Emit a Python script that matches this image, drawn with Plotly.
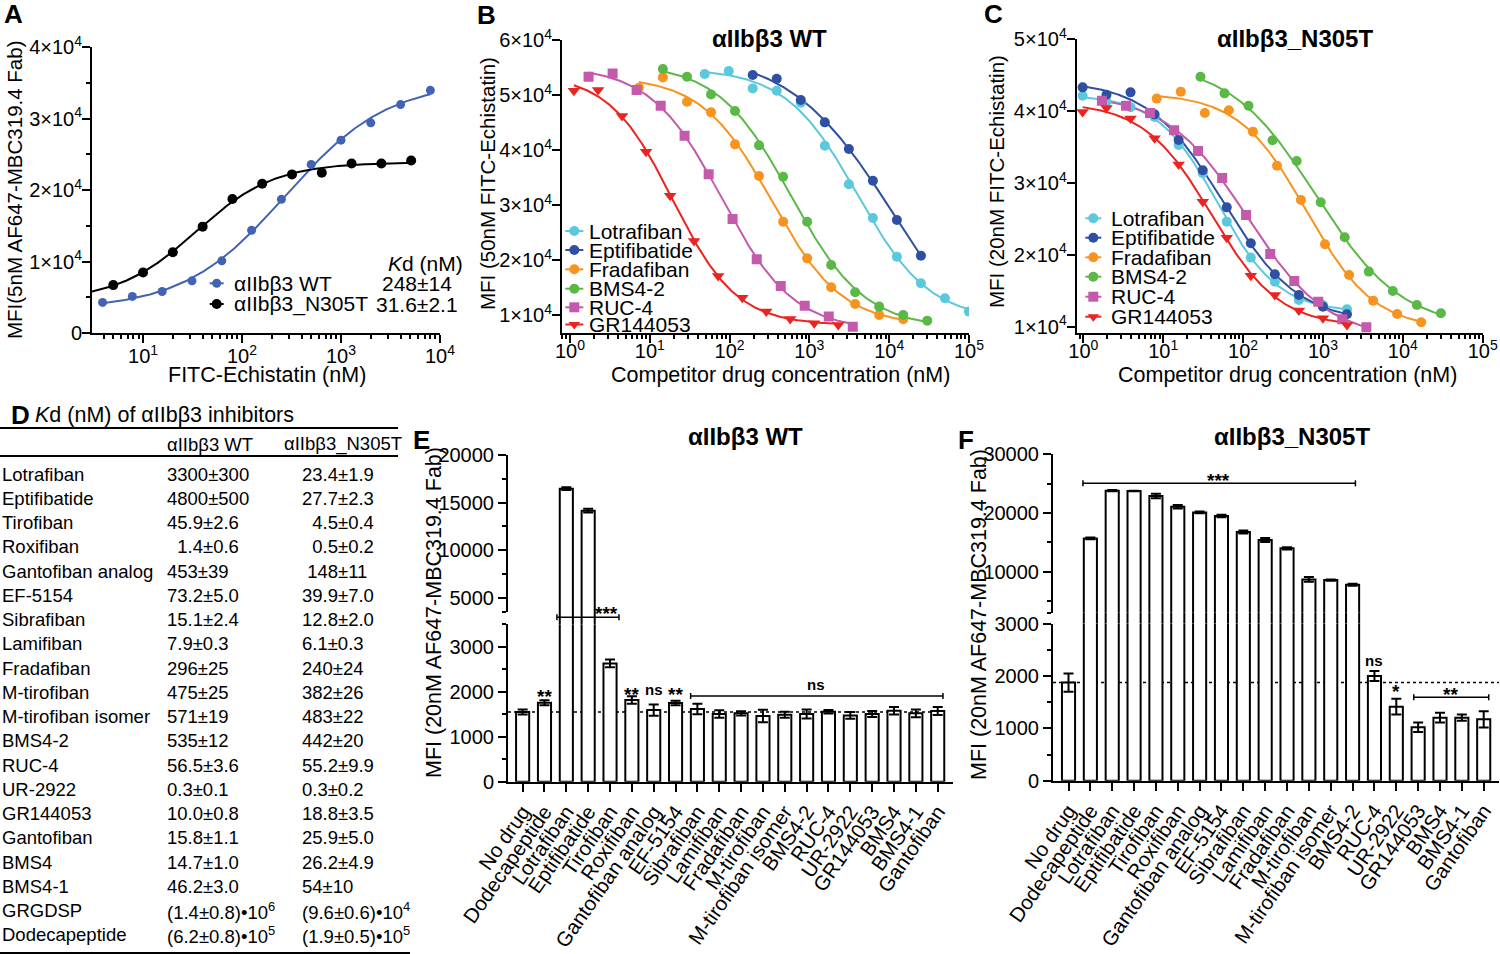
import numpy as np
import plotly.graph_objects as go

W, H = 1500, 954
FONT = "Liberation Sans, Arial, Helvetica, sans-serif"


def px(x):
    return x / W


def py(y):
    return 1 - y / H


# ======================= DATA =======================
# ---- Panel A : FITC-Echistatin binding ----
a_wt_conc = [3.9, 7.8, 15.6, 31.25, 62.5, 125, 250, 500, 1000, 2000, 4000, 8000]
a_wt_mfi = [4280, 5120, 5810, 7300, 10090, 14370, 18700, 23580, 26980, 29400, 31950, 33950]
a_mut_conc = [5, 10, 20, 40, 80, 160, 320, 640, 1280, 2560, 5120]
a_mut_mfi = [6700, 8470, 11300, 14880, 18740, 20880, 22190, 22420, 23720, 23720, 24140]
a_names = ["αIIbβ3 WT", "αIIbβ3_N305T"]
a_kd = ["248±14", "31.6±2.1"]

# ---- Panel B : competition on WT ----
b_lotrafiban_conc = [48.8, 97.7, 195, 390, 781, 1562, 3125, 6250, 12500, 25000, 50000, 100000]
b_lotrafiban_mfi = [53820, 54360, 51210, 50790, 48610, 40790, 33760, 27640, 20600, 15760, 13030, 10610]
b_eptifibatide_conc = [195, 390, 781, 1562, 3125, 6250, 12500, 25000]
b_eptifibatide_mfi = [53640, 52970, 49090, 45030, 40180, 34420, 27270, 20790]
b_fradafiban_conc = [7.3, 14.6, 29.3, 58.6, 117, 234, 469, 938, 1875, 3750, 7500, 15000]
b_fradafiban_mfi = [51330, 53210, 48790, 46850, 41030, 35270, 26970, 20300, 15030, 12000, 10000, 9210]
b_bms42_conc = [14.6, 29.3, 58.6, 117, 234, 469, 938, 1875, 3750, 7500, 15000, 30000]
b_bms42_mfi = [54730, 53330, 50120, 47090, 40850, 35150, 26970, 19090, 14120, 11520, 10000, 8970]
b_ruc4_conc = [1.71, 3.42, 6.84, 13.7, 27.3, 54.7, 109, 219, 438, 875, 1750, 3500]
b_ruc4_mfi = [53330, 53940, 50910, 48060, 42610, 35580, 27460, 20120, 15270, 11700, 9700, 7880]
b_gr_conc = [1.12, 2.25, 4.49, 8.98, 18.0, 35.9, 71.9, 144, 288, 575, 1150, 2300]
b_gr_mfi = [50790, 50910, 46180, 39700, 31700, 23450, 17090, 13150, 10610, 9270, 8480, 8180]

# ---- Panel C : competition on N305T ----
c_lotrafiban_conc = [0.98, 1.95, 3.9, 7.8, 15.6, 31.25, 62.5, 125, 250, 500, 1000, 2000]
c_lotrafiban_mfi = [42160, 41320, 40560, 39200, 35300, 31350, 24620, 19610, 16260, 13710, 13020, 12410]
c_eptifibatide_conc = [0.98, 1.95, 3.9, 7.8, 15.6, 31.25, 62.5, 125, 250, 500, 1000, 2000]
c_eptifibatide_mfi = [43320, 42300, 42620, 39560, 35990, 31770, 26610, 21600, 17290, 14410, 12780, 11720]
c_fradafiban_conc = [8.3, 16.6, 33.2, 66.4, 133, 266, 531, 1062, 2125, 4250, 8500, 17000]
c_fradafiban_mfi = [41750, 42720, 39750, 40120, 37150, 32410, 27630, 21460, 17190, 13620, 11760, 10600]
c_bms42_conc = [29.3, 58.6, 117, 234, 469, 938, 1875, 3750, 7500, 15000, 30000]
c_bms42_mfi = [44800, 42480, 40750, 35950, 33060, 27310, 22440, 17660, 14970, 13020, 11860]
c_ruc4_conc = [1.71, 3.42, 6.84, 13.7, 27.3, 54.7, 109, 219, 438, 875, 1750, 3500]
c_ruc4_mfi = [41470, 40750, 39750, 37350, 34460, 30700, 25550, 20120, 16360, 13480, 11020, 9910]
c_gr_conc = [0.98, 1.95, 3.9, 7.8, 15.6, 31.25, 62.5, 125, 250, 500, 1000, 2000]
c_gr_mfi = [39870, 40450, 38970, 36230, 32560, 27400, 22390, 17100, 14410, 12230, 11160, 10230]

bc_drugs = ["Lotrafiban", "Eptifibatide", "Fradafiban", "BMS4-2", "RUC-4", "GR144053"]

# ---- Panel D : Kd table ----
d_title = "<i>K</i>d (nM) of αIIbβ3 inhibitors"
d_headers = ["αIIbβ3 WT", "αIIbβ3_N305T"]
d_drugs = ["Lotrafiban", "Eptifibatide", "Tirofiban", "Roxifiban", "Gantofiban analog", "EF-5154",
           "Sibrafiban", "Lamifiban", "Fradafiban", "M-tirofiban", "M-tirofiban isomer", "BMS4-2",
           "RUC-4", "UR-2922", "GR144053", "Gantofiban", "BMS4", "BMS4-1", "GRGDSP", "Dodecapeptide"]
d_wt = ["3300±300", "4800±500", "45.9±2.6", "\u20071.4±0.6", "453±39", "73.2±5.0", "15.1±2.4",
        "7.9±0.3", "296±25", "475±25", "571±19", "535±12", "56.5±3.6", "0.3±0.1", "10.0±0.8",
        "15.8±1.1", "14.7±1.0", "46.2±3.0", "(1.4±0.8)•10<sup>6</sup>", "(6.2±0.8)•10<sup>5</sup>"]
d_n305t = ["23.4±1.9", "27.7±2.3", "\u20074.5±0.4", "\u20070.5±0.2", "\u2008148±11", "39.9±7.0",
           "12.8±2.0", "6.1±0.3", "240±24", "382±26", "483±22", "442±20", "55.2±9.9", "0.3±0.2",
           "18.8±3.5", "25.9±5.0", "26.2±4.9", "54±10", "(9.6±0.6)•10<sup>4</sup>",
           "(1.9±0.5)•10<sup>5</sup>"]

# ---- Panels E / F : bar charts ----
ef_categories = ["No drug", "Dodecapeptide", "Lotrafiban", "Eptifibatide", "Tirofiban", "Roxifiban",
                 "Gantofiban analog", "EF-5154", "Sibrafiban", "Lamifiban", "Fradafiban", "M-tirofiban",
                 "M-tirofiban isomer", "BMS4-2", "RUC-4", "UR-2922", "GR144053", "BMS4", "BMS4-1",
                 "Gantofiban"]
e_mean = [1548, 1756, 16470, 14160, 2630, 1815, 1593, 1748, 1615, 1504, 1519, 1459, 1489, 1504,
          1556, 1474, 1504, 1578, 1519, 1570]
e_err = [55, 55, 150, 200, 85, 85, 125, 50, 115, 85, 45, 140, 65, 100, 40, 75, 65, 85, 85, 90]
f_mean = [1873, 15680, 23810, 23750, 22900, 21080, 20110, 19490, 16760, 15400, 13980, 8690, 8580,
          7780, 2000, 1414, 1019, 1204, 1204, 1172]
f_err = [175, 150, 100, 60, 400, 300, 150, 200, 250, 350, 200, 400, 100, 150, 95, 150, 90, 95, 60, 155]

# significance labels: (category index, label)
e_sig_single = [(1, "**"), (5, "**"), (6, "ns"), (7, "**")]
f_sig_single = [(14, "ns"), (15, "*")]
e_sig_groups = ["***", "ns"]
f_sig_groups = ["***", "**"]

# ======================= STYLE =======================
A_COL = {"WT": "#4263b3", "MUT": "#000000"}
BC_COL = {"Lotrafiban": "#5bc8dc", "Eptifibatide": "#2f4fa2", "Fradafiban": "#f7931e",
          "BMS4-2": "#5ab946", "RUC-4": "#c45aab", "GR144053": "#ea2420"}
BC_SYM = {"Lotrafiban": "circle", "Eptifibatide": "circle", "Fradafiban": "circle",
          "BMS4-2": "circle", "RUC-4": "square", "GR144053": "triangle-down"}


# ======================= FIT (4-parameter logistic) =======================
def model4(p, lx):
    e = np.clip((p[2] - lx) * p[3], -60, 60)
    return p[0] + (p[1] - p[0]) / (1 + 10.0 ** e)


def fit_4pl(conc, mfi):
    lx = np.log10(np.asarray(conc, float))
    y = np.asarray(mfi, float)
    o = np.argsort(lx)
    lx, y = lx[o], y[o]
    lo, hi = y[:2].mean(), y[-2:].mean()
    mid = 0.5 * (lo + hi)
    p = np.array([lo, hi, lx[np.argmin(np.abs(y - mid))], 1.0])

    def res(q):
        return model4(q, lx) - y

    r = res(p)
    cost = float(r @ r)
    lam = 1e-2
    for _ in range(400):
        J = np.empty((lx.size, 4))
        for k in range(4):
            d = 1e-6 * max(1.0, abs(p[k]))
            q = p.copy()
            q[k] += d
            J[:, k] = (res(q) - r) / d
        A = J.T @ J
        g = J.T @ r
        improved = False
        rel = 0.0
        while lam < 1e10:
            try:
                step = np.linalg.solve(A + lam * np.diag(np.diag(A) + 1e-9), -g)
            except np.linalg.LinAlgError:
                lam *= 10
                continue
            q = p + step
            rq = res(q)
            cq = float(rq @ rq)
            if np.isfinite(cq) and cq < cost:
                rel = (cost - cq) / cost
                p, r, cost = q, rq, cq
                lam = max(lam * 0.3, 1e-12)
                improved = True
                break
            lam *= 10
        if not improved or rel < 1e-12:
            break
    return p


def fit_curve(conc, mfi, xmin=None, xmax=None, n=250):
    p = fit_4pl(conc, mfi)
    lo = np.log10(min(conc) if xmin is None else xmin)
    hi = np.log10(max(conc) if xmax is None else xmax)
    lxs = np.linspace(lo, hi, n)
    return 10 ** lxs, model4(p, lxs)


# ======================= FIGURE =======================
fig = go.Figure()
shapes = []
anns = []


def txt(x, y, s, size, xanchor="center", yanchor="middle", bold=False, angle=0, color="black"):
    if bold:
        s = "<b>" + s + "</b>"
    anns.append(dict(x=px(x), y=py(y), xref="paper", yref="paper", text=s, showarrow=False,
                     xanchor=xanchor, yanchor=yanchor, textangle=angle,
                     font=dict(family=FONT, size=size, color=color)))


def line_px(x0, y0, x1, y1, width=2, color="black", dash=None):
    shapes.append(dict(type="line", xref="paper", yref="paper", x0=px(x0), y0=py(y0),
                       x1=px(x1), y1=py(y1), line=dict(color=color, width=width, dash=dash)))


def legend_symbol(xc, yc, color, symbol, size=10, half=8):
    line_px(xc - half, yc, xc + half, yc, width=2, color=color)
    r = size / 2
    if symbol == "circle":
        shapes.append(dict(type="circle", xref="paper", yref="paper", x0=px(xc - r), x1=px(xc + r),
                           y0=py(yc + r), y1=py(yc - r), fillcolor=color, line=dict(width=0)))
    elif symbol == "square":
        shapes.append(dict(type="rect", xref="paper", yref="paper", x0=px(xc - r), x1=px(xc + r),
                           y0=py(yc + r), y1=py(yc - r), fillcolor=color, line=dict(width=0)))
    else:
        rt = r * 2 / np.sqrt(3)
        path = (f"M{px(xc - rt)},{py(yc - r / 2)} L{px(xc + rt)},{py(yc - r / 2)} "
                f"L{px(xc)},{py(yc + r)} Z")
        shapes.append(dict(type="path", xref="paper", yref="paper", path=path,
                           fillcolor=color, line=dict(width=0)))


# ---------- Panel A traces ----------
A_XMIN = 3.05
for conc, mfi, col, xmin in [(a_wt_conc, a_wt_mfi, A_COL["WT"], None),
                             (a_mut_conc, a_mut_mfi, A_COL["MUT"], A_XMIN)]:
    cx, cy = fit_curve(conc, mfi, xmin=xmin)
    fig.add_trace(go.Scatter(x=cx, y=cy, mode="lines", line=dict(color=col, width=2),
                             xaxis="x", yaxis="y", hoverinfo="skip"))
fig.add_trace(go.Scatter(x=a_wt_conc, y=a_wt_mfi, mode="markers",
                         marker=dict(color=A_COL["WT"], size=9, symbol="circle"), xaxis="x", yaxis="y"))
fig.add_trace(go.Scatter(x=a_mut_conc, y=a_mut_mfi, mode="markers",
                         marker=dict(color=A_COL["MUT"], size=10, symbol="circle"), xaxis="x", yaxis="y"))

# ---------- Panels B / C traces ----------
b_series = [(b_lotrafiban_conc, b_lotrafiban_mfi), (b_eptifibatide_conc, b_eptifibatide_mfi),
            (b_fradafiban_conc, b_fradafiban_mfi), (b_bms42_conc, b_bms42_mfi),
            (b_ruc4_conc, b_ruc4_mfi), (b_gr_conc, b_gr_mfi)]
c_series = [(c_lotrafiban_conc, c_lotrafiban_mfi), (c_eptifibatide_conc, c_eptifibatide_mfi),
            (c_fradafiban_conc, c_fradafiban_mfi), (c_bms42_conc, c_bms42_mfi),
            (c_ruc4_conc, c_ruc4_mfi), (c_gr_conc, c_gr_mfi)]

for series, xa, ya in [(b_series, "x2", "y2"), (c_series, "x3", "y3")]:
    for name, (conc, mfi) in zip(bc_drugs, series):
        cx, cy = fit_curve(conc, mfi)
        fig.add_trace(go.Scatter(x=cx, y=cy, mode="lines", line=dict(color=BC_COL[name], width=2),
                                 xaxis=xa, yaxis=ya, hoverinfo="skip"))
    for name, (conc, mfi) in zip(bc_drugs, series):
        sym = BC_SYM[name]
        fig.add_trace(go.Scatter(x=conc, y=mfi, mode="markers", name=name,
                                 marker=dict(color=BC_COL[name], size=11 if sym == "triangle-down" else 10,
                                             symbol=sym),
                                 xaxis=xa, yaxis=ya))

# ---------- Panels E / F bars (broken axes) ----------
bar_style = dict(width=0.6, marker=dict(color="white", line=dict(color="black", width=2)))


def err(arr):
    return dict(type="data", array=arr, visible=True, color="black", thickness=2, width=5)


for mean, e, xa, ys in [(e_mean, e_err, "x4", ["y4", "y5", "y6"]),
                        (f_mean, f_err, "x5", ["y7", "y8", "y9"])]:
    for k, ya in enumerate(ys):
        fig.add_trace(go.Bar(x=ef_categories, y=mean, xaxis=xa, yaxis=ya,
                             error_y=err(e) if k != 1 else None, **bar_style))

# reference (No drug) dotted lines
shapes.append(dict(type="line", xref="x4", yref="y4", x0=-0.67, x1=19.35, y0=e_mean[0], y1=e_mean[0],
                   line=dict(color="black", width=1.5, dash="dot"), layer="below"))
shapes.append(dict(type="line", xref="x5", yref="y7", x0=-0.71, x1=19.7, y0=f_mean[0], y1=f_mean[0],
                   line=dict(color="black", width=1.5, dash="dot"), layer="below"))


def sig_text(xref, idx, ypix, label):
    off = 5 if "*" in label else -1
    size = 19 if "*" in label else 15
    anns.append(dict(x=idx, y=py(ypix + off), xref=xref, yref="paper", text="<b>" + label + "</b>",
                     showarrow=False, xanchor="center", yanchor="middle",
                     font=dict(family=FONT, size=size, color="black")))


def bracket(xref, x0, x1, ypix):
    for a, b, c, d in [(x0, ypix, x1, ypix), (x0, ypix - 3, x0, ypix + 3), (x1, ypix - 3, x1, ypix + 3)]:
        shapes.append(dict(type="line", xref=xref, yref="paper", x0=a, x1=c, y0=py(b), y1=py(d),
                           line=dict(color="black", width=1.5)))


E_SINGLE_Y = {1: 691.7, 5: 689.3, 6: 690.0, 7: 689.3}
for idx, lab in e_sig_single:
    sig_text("x4", idx, E_SINGLE_Y[idx], lab)
F_SINGLE_Y = {14: 661.7, 15: 686.7}
for idx, lab in f_sig_single:
    sig_text("x5", idx, F_SINGLE_Y[idx], lab)

E_GROUP_POS = [(1.57, 4.41, 617.3, 3.86, 608.3), (7.69, 19.24, 696.0, 13.44, 685.0)]
for lab, (x0, x1, yl, xt, yt) in zip(e_sig_groups, E_GROUP_POS):
    bracket("x4", x0, x1, yl)
    sig_text("x4", xt, yt, lab)
F_GROUP_POS = [(0.66, 13.13, 483.3, 6.86, 475.0), (15.8, 19.23, 697.3, 17.5, 689.3)]
for lab, (x0, x1, yl, xt, yt) in zip(f_sig_groups, F_GROUP_POS):
    bracket("x5", x0, x1, yl)
    sig_text("x5", xt, yt, lab)

# ======================= AXES =======================
TICKFONT = dict(family=FONT, size=20, color="black")


def ax(**kw):
    d = dict(showline=True, linecolor="black", linewidth=2, ticks="outside", ticklen=8, tickwidth=2,
             tickcolor="black", showgrid=False, zeroline=False, tickfont=TICKFONT, fixedrange=True,
             automargin=False)
    d.update(kw)
    return d


def log_minor(lo, hi):
    vals = []
    for k in range(int(np.floor(lo)) - 1, int(np.ceil(hi)) + 1):
        for m in range(2, 10):
            v = m * 10.0 ** k
            if 10 ** lo <= v <= 10 ** hi:
                vals.append(v)
    return vals


def sci(v):
    if v == 0:
        return "0"
    e = int(np.floor(np.log10(v)))
    m = int(round(v / 10 ** e))
    return f"{m}×10<sup>{e}</sup>"


def plain(vals):
    return [str(int(v)) for v in vals]


MINOR = dict(ticks="outside", ticklen=4, tickwidth=1.5, tickcolor="black")

# Panel A
a_xr = [np.log10(A_XMIN), 4.0005]
a_xt = [10, 100, 1000, 10000]
a_yt = [0, 10000, 20000, 30000, 40000]
layout_axes = dict(
    xaxis=ax(domain=[px(92), px(440)], anchor="y", type="log", range=a_xr, tickvals=a_xt,
             ticktext=[f"10<sup>{int(np.log10(v))}</sup>" for v in a_xt], ticklabelstandoff=-4,
             minor=dict(tickvals=log_minor(a_xr[0], 4), **MINOR)),
    yaxis=ax(domain=[py(333), py(47)], anchor="x", range=[0, 40010], tickvals=a_yt,
             ticktext=[sci(v) for v in a_yt], ticklabelstandoff=-4,
             minor=dict(tickvals=[5000, 15000, 25000, 35000], **MINOR)),
)
bc_xt = [1, 10, 100, 1000, 10000, 100000]
b_yt = [10000, 20000, 30000, 40000, 50000, 60000]
c_yt = [10000, 20000, 30000, 40000, 50000]
layout_axes.update(
    xaxis2=ax(domain=[px(562), px(969)], anchor="y2", type="log", range=[-0.1, 5.0005], tickvals=bc_xt,
              ticktext=[f"10<sup>{int(np.log10(v))}</sup>" for v in bc_xt], ticklabelstandoff=-9,
              minor=dict(tickvals=log_minor(-0.1, 5), **MINOR)),
    yaxis2=ax(domain=[py(333.3), py(40)], anchor="x2", range=[6667, 60010], tickvals=b_yt,
              ticktext=[sci(v) for v in b_yt], ticklabelstandoff=-4),
    xaxis3=ax(domain=[px(1076.7), px(1482.7)], anchor="y3", type="log", range=[-0.083, 5.0005],
              tickvals=bc_xt, ticktext=[f"10<sup>{int(np.log10(v))}</sup>" for v in bc_xt],
              ticklabelstandoff=-9, minor=dict(tickvals=log_minor(-0.083, 5), **MINOR)),
    yaxis3=ax(domain=[py(333.3), py(39.3)], anchor="x3", range=[9070, 50010], tickvals=c_yt,
              ticktext=[sci(v) for v in c_yt], ticklabelstandoff=-4),
)
CATFONT = dict(family=FONT, size=20.5, color="black")
e_lo_t, e_hi_t = [0, 1000, 2000, 3000], [5000, 10000, 15000, 20000]
f_lo_t, f_hi_t = [0, 1000, 2000, 3000], [10000, 20000, 30000]
layout_axes.update(
    xaxis4=ax(domain=[px(508), px(953)], anchor="y4", type="category", range=[-0.67, 19.7],
              tickangle=-55, tickfont=CATFONT, tickmode="array", tickvals=ef_categories,
              ticktext=ef_categories),
    yaxis4=ax(domain=[py(781.7), py(624.2)], anchor="x4", range=[0, 3501],
              tickvals=e_lo_t, ticktext=plain(e_lo_t),
              minor=dict(tickvals=[500, 1500, 2500, 3500], **MINOR)),
    yaxis5=dict(domain=[py(624.2), py(612.1)], anchor="x4", range=[3499, 3501], visible=False,
                fixedrange=True),
    yaxis6=ax(domain=[py(612.1), py(455)], anchor="x4", range=[3500, 20005],
              tickvals=e_hi_t, ticktext=plain(e_hi_t),
              minor=dict(tickvals=[3500, 7500, 12500, 17500], **MINOR)),
    xaxis5=ax(domain=[px(1053), px(1499)], anchor="y7", type="category", range=[-0.71, 19.7],
              tickangle=-55, tickfont=CATFONT, tickmode="array", tickvals=ef_categories,
              ticktext=ef_categories),
    yaxis7=ax(domain=[py(780.7), py(623.5)], anchor="x5", range=[0, 3001],
              tickvals=f_lo_t, ticktext=plain(f_lo_t),
              minor=dict(tickvals=[500, 1500, 2500], **MINOR)),
    yaxis8=dict(domain=[py(623.5), py(612.8)], anchor="x5", range=[2999, 3001], visible=False,
                fixedrange=True),
    yaxis9=ax(domain=[py(612.8), py(454.3)], anchor="x5", range=[3000, 30005],
              tickvals=f_hi_t, ticktext=plain(f_hi_t),
              minor=dict(tickvals=[3000, 5000, 15000, 25000], **MINOR)),
)

# ======================= TEXT =======================
for lab, x, y in [("A", 13, 14), ("B", 486, 15), ("C", 993, 14), ("D", 20, 415), ("E", 421, 440),
                  ("F", 966, 440)]:
    txt(x, y, lab, 26, bold=True)

# Panel A texts
txt(14, 190, "MFI(5nM AF647-MBC319.4 Fab)", 20.5, angle=-90)
txt(267, 375, "FITC-Echistatin (nM)", 21.5)
legend_symbol(216.7, 283.3, A_COL["WT"], "circle", size=9, half=7)
legend_symbol(216.7, 304.0, A_COL["MUT"], "circle", size=10, half=7)
for name, kd, y in zip(a_names, a_kd, [283.3, 304.0]):
    txt(231.7, y, name, 21, xanchor="left")
    txt(417, y, kd, 21)
txt(425, 263, "<i>K</i>d (nM)", 21)

# Panel B texts
txt(487, 184, "MFI (50nM FITC-Echistatin)", 20.5, angle=-90)
txt(780, 375, "Competitor drug concentration (nM)", 21.5)
txt(769, 38, "αIIbβ3 WT", 24, bold=True)
for name, y in zip(bc_drugs, [231, 250, 269.3, 288.7, 307.3, 324.5]):
    legend_symbol(574.3, y, BC_COL[name], BC_SYM[name], size=10, half=9)
    txt(587.3, y, name, 21, xanchor="left")

# Panel C texts
txt(996, 182, "MFI (20nM FITC-Echistatin)", 20.5, angle=-90)
txt(1287, 375, "Competitor drug concentration (nM)", 21.5)
txt(1295, 39, "αIIbβ3_N305T", 24, bold=True)
for name, y in zip(bc_drugs, [218.3, 237.7, 257.3, 276.7, 296.7, 316.7]):
    legend_symbol(1093.3, y, BC_COL[name], BC_SYM[name], size=10, half=8)
    txt(1109.3, y, name, 21, xanchor="left")

# Panel D table
txt(33, 415, d_title, 21.5, xanchor="left")
line_px(0, 428, 398, 428, width=2)
txt(165, 444, d_headers[0], 18.5, xanchor="left")
txt(282, 444, d_headers[1], 18.5, xanchor="left")
line_px(0, 456, 398, 456, width=2)
ROW0, ROWSTEP = 474.0, 24.25
for i, (dn, wt, mt) in enumerate(zip(d_drugs, d_wt, d_n305t)):
    yy = ROW0 + i * ROWSTEP
    txt(0, yy, dn, 18.5, xanchor="left")
    txt(165, yy, wt, 18.5, xanchor="left")
    txt(300, yy, mt, 18.5, xanchor="left")
line_px(0, 953, 410, 953, width=2)

# Panels E / F texts
txt(434, 613, "MFI (20nM AF647-MBC319.4 Fab)", 21.5, angle=-90)
txt(745.7, 436, "αIIbβ3 WT", 24, bold=True)
txt(979, 614, "MFI (20nM AF647-MBC319.4 Fab)", 21.5, angle=-90)
txt(1292.3, 437, "αIIbβ3_N305T", 24, bold=True)

fig.update_layout(
    width=W, height=H, autosize=False,
    margin=dict(l=0, r=0, t=0, b=0, pad=0, autoexpand=False),
    paper_bgcolor="white", plot_bgcolor="rgba(0,0,0,0)", showlegend=False, barmode="overlay",
    font=dict(family=FONT, color="black", size=20), hovermode=False,
    shapes=shapes, annotations=anns, **layout_axes,
)

fig.write_html("out.html", config={"responsive": False, "displayModeBar": False},
               post_script="document.body.style.margin='0px';document.body.style.overflow='hidden';")
